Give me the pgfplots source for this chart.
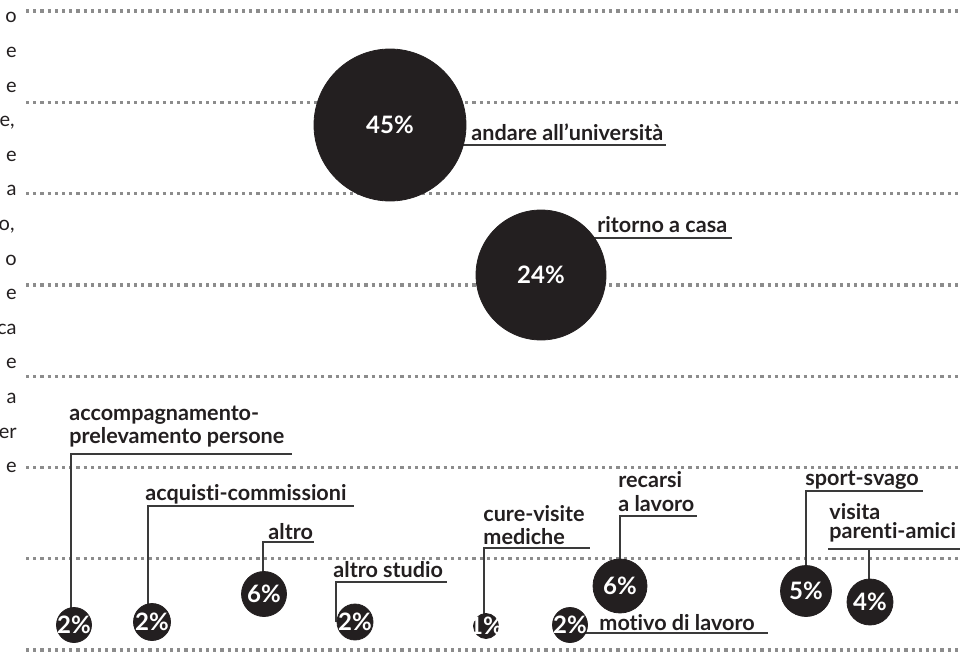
\documentclass[border=0pt]{standalone}
\usepackage{fontspec}
\setmainfont[Ligatures=NoCommon]{Lato}
\usepackage{pgfplots}
\pgfplotsset{compat=1.18}
\definecolor{ink}{HTML}{231F20}
\definecolor{dotgray}{HTML}{8C8C8C}
\definecolor{leadc}{HTML}{3A3A3A}

\tikzset{
  lbl/.style={anchor=base west, inner sep=0pt, text=ink, font=\fontsize{10.8}{12}\selectfont\bfseries},
  frag/.style={anchor=base east, inner sep=0pt, text=ink, font=\fontsize{10}{12}\selectfont},
  ldr/.style={leadc, line width=0.9pt},
  dots/.style={dotgray, line width=1.6pt, dash pattern=on 1.6pt off 2pt},
}
\pgfplotsset{
  bub/.style={only marks, mark=*, color=ink, mark options={draw=ink, fill=ink},
    point meta=explicit symbolic, nodes near coords,
    nodes near coords style={anchor=center, inner sep=0pt, text=white,
      font=\fontsize{12}{14}\selectfont\bfseries}},
}

\begin{document}
\begin{tikzpicture}
\begin{axis}[
  scale only axis, width=488pt, height=326.5pt,
  xmin=0, xmax=976, ymin=0, ymax=653, y dir=reverse,
  hide axis, clip=false,
]
% dotted guide lines
\addplot[dots] coordinates {(26,11) (960,11)};
\addplot[dots] coordinates {(26,102.3) (960,102.3)};
\addplot[dots] coordinates {(26,193.6) (960,193.6)};
\addplot[dots] coordinates {(26,284.9) (960,284.9)};
\addplot[dots] coordinates {(26,376.1) (960,376.1)};
\addplot[dots] coordinates {(26,467.4) (960,467.4)};
\addplot[dots] coordinates {(26,558.7) (960,558.7)};
\addplot[dots] coordinates {(26,650) (960,650)};

% leader lines and underlines
\draw[ldr] (axis cs:71,608) |- (axis cs:292,454);
\draw[ldr] (axis cs:148,604) |- (axis cs:354,506);
\draw[ldr] (axis cs:263,571.5) |- (axis cs:314,542);
\draw[ldr] (axis cs:336,622) |- (axis cs:447,582);
\draw[ldr] (axis cs:484,614) |- (axis cs:590,548);
\draw[ldr] (axis cs:620,559) |- (axis cs:697,516);
\draw[ldr] (axis cs:584,633) -- (axis cs:768,633);
\draw[ldr] (axis cs:806,566) |- (axis cs:923,491);
\draw[ldr] (axis cs:869,579) -- (axis cs:869,549);
\draw[ldr] (axis cs:828,549) -- (axis cs:960,549);
\draw[ldr] (axis cs:463,145) -- (axis cs:666,145);
\draw[ldr] (axis cs:592,238) -- (axis cs:732,238);

% bubbles (mark size = radius in px * 0.5 pt)
\addplot[bub, mark size=38pt]   coordinates {(390,125) [45\%]};
\addplot[bub, mark size=32.5pt] coordinates {(541,275) [24\%]};
\addplot[bub, mark size=8.75pt] coordinates {(74,625) [2\%]};
\addplot[bub, mark size=9.25pt] coordinates {(152,622) [2\%]};
\addplot[bub, mark size=11.25pt] coordinates {(264,594) [6\%]};
\addplot[bub, mark size=9pt]    coordinates {(355,622) [2\%]};
\addplot[bub, mark size=6.25pt] coordinates {(486,626) [1\%]};
\addplot[bub, mark size=13.5pt] coordinates {(620,586) [6\%]};
\addplot[bub, mark size=8.75pt] coordinates {(570,625) [2\%]};
\addplot[bub, mark size=12.75pt] coordinates {(806,591) [5\%]};
\addplot[bub, mark size=11.5pt] coordinates {(870,602) [4\%]};

% labels
\node[lbl] at (axis cs:69,420) {accompagnamento-};
\node[lbl] at (axis cs:69,443) {prelevamento persone};
\node[lbl] at (axis cs:145,500) {acquisti-commissioni};
\node[lbl] at (axis cs:268,539) {altro};
\node[lbl] at (axis cs:333,577) {altro studio};
\node[lbl] at (axis cs:483,521) {cure-visite};
\node[lbl] at (axis cs:483,544) {mediche};
\node[lbl] at (axis cs:618,487) {recarsi};
\node[lbl] at (axis cs:618,511) {a lavoro};
\node[lbl] at (axis cs:599,630) {motivo di lavoro};
\node[lbl] at (axis cs:805,485) {sport-svago};
\node[lbl] at (axis cs:829,519) {visita};
\node[lbl] at (axis cs:829,538) {parenti-amici};
\node[lbl] at (axis cs:471,140) {andare all’università};
\node[lbl] at (axis cs:597,232) {ritorno a casa};

% cut-off paragraph on the left
\node[frag] at (axis cs:17,22.8) {o};
\node[frag] at (axis cs:17,57.4) {e};
\node[frag] at (axis cs:17,92.0) {e};
\node[frag] at (axis cs:15,126.6) {e,};
\node[frag] at (axis cs:17,161.2) {e};
\node[frag] at (axis cs:17,195.8) {a};
\node[frag] at (axis cs:15,230.4) {o,};
\node[frag] at (axis cs:17,265.0) {o};
\node[frag] at (axis cs:17,299.6) {e};
\node[frag] at (axis cs:17,334.2) {ca};
\node[frag] at (axis cs:17,368.8) {e};
\node[frag] at (axis cs:17,403.4) {a};
\node[frag] at (axis cs:17,438.0) {er};
\node[frag] at (axis cs:17,472.6) {e};
\end{axis}
\pgfresetboundingbox
\path (current axis.south west) rectangle (current axis.north east);
\end{tikzpicture}
\end{document}
